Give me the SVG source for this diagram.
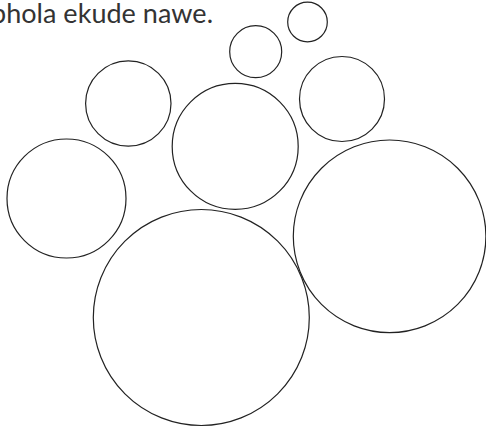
<svg xmlns="http://www.w3.org/2000/svg" width="486" height="432" viewBox="0 0 486 432">
<style>
.c{fill:none;stroke:#222;stroke-width:1.2}
.t{font-family:Lato,"Open Sans",sans-serif;font-size:27px;fill:#333}
</style>
<rect width="486" height="432" fill="#fff"/>
<text class="t" x="-9" y="22.5" textLength="222" lengthAdjust="spacing">phola ekude nawe.</text>
<g id="a"><circle class="c" cx="307.5" cy="22" r="19.8"/></g>
<g id="b"><circle class="c" cx="255.7" cy="51.7" r="26"/></g>
<g id="c"><circle class="c" cx="128.3" cy="103.5" r="42.7"/></g>
<g id="d"><circle class="c" cx="66.5" cy="198.5" r="59.5"/></g>
<g id="e"><circle class="c" cx="235.2" cy="146.4" r="63"/></g>
<g id="f"><circle class="c" cx="342" cy="99" r="42.5"/></g>
<g id="g"><circle class="c" cx="389.6" cy="236.3" r="96.3"/></g>
<g id="h"><circle class="c" cx="201.3" cy="317.5" r="108"/></g>
</svg>
